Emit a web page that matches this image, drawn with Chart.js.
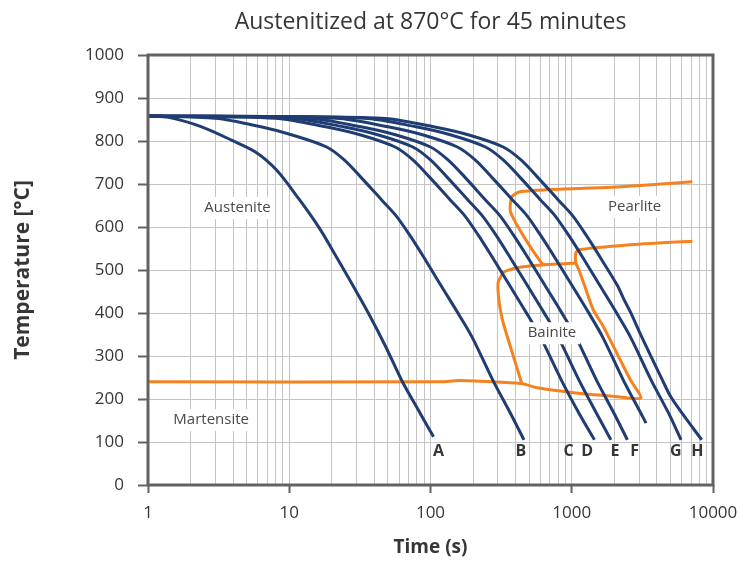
<!DOCTYPE html>
<html>
<head>
<meta charset="utf-8">
<script src="https://cdn.jsdelivr.net/npm/chart.js@4/dist/chart.umd.min.js"></script>
<style>
  html, body { margin: 0; padding: 0; background: #fff; }
  #wrap { width: 737px; height: 561px; }
</style>
</head>
<body>
<div id="wrap"><canvas id="cct" width="737" height="561"></canvas></div>
<script>
// CCT diagram — cooling curves (blue) and phase boundaries (orange)

const TITLE = "Austenitized at 870°C for 45 minutes";
const X_DECADES = [1, 10, 100, 1000, 10000];
const X_MINOR   = [2, 3, 4, 5, 6, 7, 8, 9];

// cooling curves: [time s, temperature °C]
const curveA = [[1,858],[1.4,855],[2.4,833],[3.9,802],[5.8,774],[8.1,733],[11.6,667],[16.3,598],[21.8,528],[28.1,465],[36.3,400],[48.3,321],[63.3,240],[84.4,167],[105,112]];
const curveB = [[1,858],[3,853],[6.3,833],[10.5,814],[18.4,786],[24.5,756],[32.1,716],[45.1,663],[57.1,626],[71.3,581],[90.3,528],[118,465],[155,402],[197,344],[276,244],[368,167],[459,105]];
const curveC = [[1,858],[8,853],[18.1,833],[32.1,814],[56.2,786],[75,756],[98.4,716],[138,663],[175,626],[218,581],[276,528],[362,465],[474,402],[601,344],[844,244],[1125,167],[1448,105]];
const curveD = [[1,858],[10.3,853],[24.1,833],[42.8,814],[75,786],[100,756],[131,716],[184,663],[233,626],[291,581],[368,528],[483,465],[633,402],[802,344],[1125,244],[1496,167],[1893,105]];
const curveE = [[1,858],[13.8,853],[32.1,833],[57.2,814],[100,786],[133,756],[175,716],[245,663],[311,626],[387,581],[491,528],[644,465],[844,402],[1070,344],[1496,244],[1991,167],[2477,105]];
const curveF = [[1,858],[21.4,853],[50,833],[88.9,814],[155,786],[207,756],[271,716],[381,663],[483,626],[601,581],[762,528],[1000,465],[1309,402],[1656,344],[2317,244],[3084,167],[3356,144]];
const curveG = [[1,858],[33.8,853],[78.9,833],[140,814],[245,786],[327,756],[429,716],[601,663],[762,626],[950,581],[1203,528],[1574,465],[2061,402],[2606,344],[3648,244],[4850,167],[5940,105]];
const curveH = [[1,858],[45.1,853],[105,833],[187,814],[327,786],[437,756],[572,716],[802,663],[1017,626],[1265,581],[1600,528],[2096,465],[2355,430],[2606,402],[3133,344],[4385,244],[5025,205],[6039,167],[8318,105]];

const curveNames  = ["A", "B", "C", "D", "E", "F", "G", "H"];
const curveLabelX = [114, 437, 950, 1286, 2026, 2786, 5460, 7762];
const curveLabelY = 77;

// phase boundaries
const pearliteStart = [[7140,705],[2096,693],[802,688],[430,682],[380,672],[368,655],[370,633],[459,577],[612,516],[644,512]];
const bainiteStart  = [[1070,516],[644,512],[408,505],[330,495],[301,470],[305,430],[320,390],[344,353],[408,274],[443,236]];
const msAndFinish   = [[1,240],[120,240],[158,243],[276,240],[443,236],[572,226],[1070,214],[1862,207],[3084,202],[2606,244],[2203,291],[1683,367],[1422,407],[1265,453],[1125,500],[1070,516],[1070,540],[1125,547],[2477,558],[7140,567]];

const regionNames = ["Austenite", "Pearlite", "Bainite", "Martensite"];
const regionX     = [4.3, 2786, 724, 2.8];
const regionY     = [644, 647, 353, 151];

const BLUE   = "#1f3d73";
const ORANGE = "#f5821f";
const FRAME  = "#626262";
const TEXT   = "#363636";
const FONT   = "'Open Sans', 'Noto Sans', sans-serif";

const toXY = pts => pts.map(p => ({ x: p[0], y: p[1] }));

const blueSet = pts => ({
  data: toXY(pts), borderColor: BLUE, borderWidth: 3, pointRadius: 0, tension: 0.3, fill: false,
});
const orangeSet = pts => ({
  data: toXY(pts), borderColor: ORANGE, borderWidth: 3, pointRadius: 0, tension: 0.2, fill: false,
});

const xTickValues = [];
X_DECADES.forEach((d, i) => {
  xTickValues.push(d);
  if (i < X_DECADES.length - 1) X_MINOR.forEach(m => xTickValues.push(d * m));
});

// title, frame and text annotations
const annotate = {
  id: "annotate",
  afterDatasetsDraw(chart) {
    const { ctx, chartArea: a, scales: { x, y } } = chart;
    ctx.save();
    ctx.textAlign = "center";
    ctx.textBaseline = "middle";

    // region labels on white boxes
    ctx.font = `15px ${FONT}`;
    regionNames.forEach((t, i) => {
      const px = x.getPixelForValue(regionX[i]);
      const py = y.getPixelForValue(regionY[i]);
      const w = ctx.measureText(t).width;
      ctx.fillStyle = "#fff";
      ctx.fillRect(px - w / 2 - 4, py - 11, w + 8, 22);
      ctx.fillStyle = "#4a4a4a";
      ctx.fillText(t, px, py);
    });

    // curve letters
    ctx.font = `bold 16px ${FONT}`;
    ctx.fillStyle = TEXT;
    curveNames.forEach((t, i) => {
      ctx.fillText(t, x.getPixelForValue(curveLabelX[i]), y.getPixelForValue(curveLabelY));
    });

    // frame
    ctx.strokeStyle = FRAME;
    ctx.lineWidth = 3;
    ctx.strokeRect(a.left, a.top, a.right - a.left, a.bottom - a.top);

    // title centred over the plot
    ctx.font = `23px ${FONT}`;
    ctx.fillStyle = TEXT;
    ctx.fillText(TITLE, (a.left + a.right) / 2, 22);
    ctx.restore();
  },
};

new Chart(document.getElementById("cct").getContext("2d"), {
  type: "line",
  data: {
    datasets: [
      blueSet(curveA), blueSet(curveB), blueSet(curveC), blueSet(curveD),
      blueSet(curveE), blueSet(curveF), blueSet(curveG), blueSet(curveH),
      orangeSet(pearliteStart), orangeSet(bainiteStart), orangeSet(msAndFinish),
    ],
  },
  options: {
    responsive: false,
    animation: false,
    layout: { padding: { top: 55, right: 24, bottom: 0, left: 0 } },
    plugins: {
      legend: { display: false },
      tooltip: { enabled: false },
      title: { display: false },
    },
    scales: {
      x: {
        type: "logarithmic",
        min: 1,
        max: 10000,
        afterBuildTicks: s => { s.ticks = xTickValues.map(v => ({ value: v })); },
        afterFit: s => { s.height = 76; s.paddingLeft = 0; s.paddingRight = 0; },
        ticks: {
          autoSkip: false,
          maxRotation: 0,
          padding: 10,
          color: TEXT,
          font: { family: FONT, size: 17 },
          callback: v => (X_DECADES.includes(v) ? String(v) : ""),
        },
        grid: {
          color: "#c4c4c4",
          lineWidth: 1,
          tickLength: 8,
          tickWidth: 2,
          tickColor: c => (X_DECADES.includes(c.tick && c.tick.value) ? FRAME : "rgba(0,0,0,0)"),
        },
        border: { display: false },
        title: {
          display: true,
          text: "Time (s)",
          color: TEXT,
          font: { family: FONT, size: 19, weight: "bold" },
          padding: { top: 0, bottom: 2 },
        },
      },
      y: {
        min: 0,
        max: 1000,
        afterFit: s => { s.width = 148; s.paddingTop = 0; s.paddingBottom = 0; },
        ticks: {
          stepSize: 100,
          padding: 14,
          color: TEXT,
          font: { family: FONT, size: 17 },
          callback: v => String(v),
        },
        grid: {
          color: "#c4c4c4",
          lineWidth: 1,
          tickLength: 10,
          tickWidth: 2,
          tickColor: FRAME,
        },
        border: { display: false },
        title: {
          display: true,
          text: "Temperature [°C]",
          color: TEXT,
          font: { family: FONT, size: 21, weight: "bold" },
          padding: { top: 10, bottom: 0 },
        },
      },
    },
  },
  plugins: [annotate],
});
</script>
</body>
</html>
